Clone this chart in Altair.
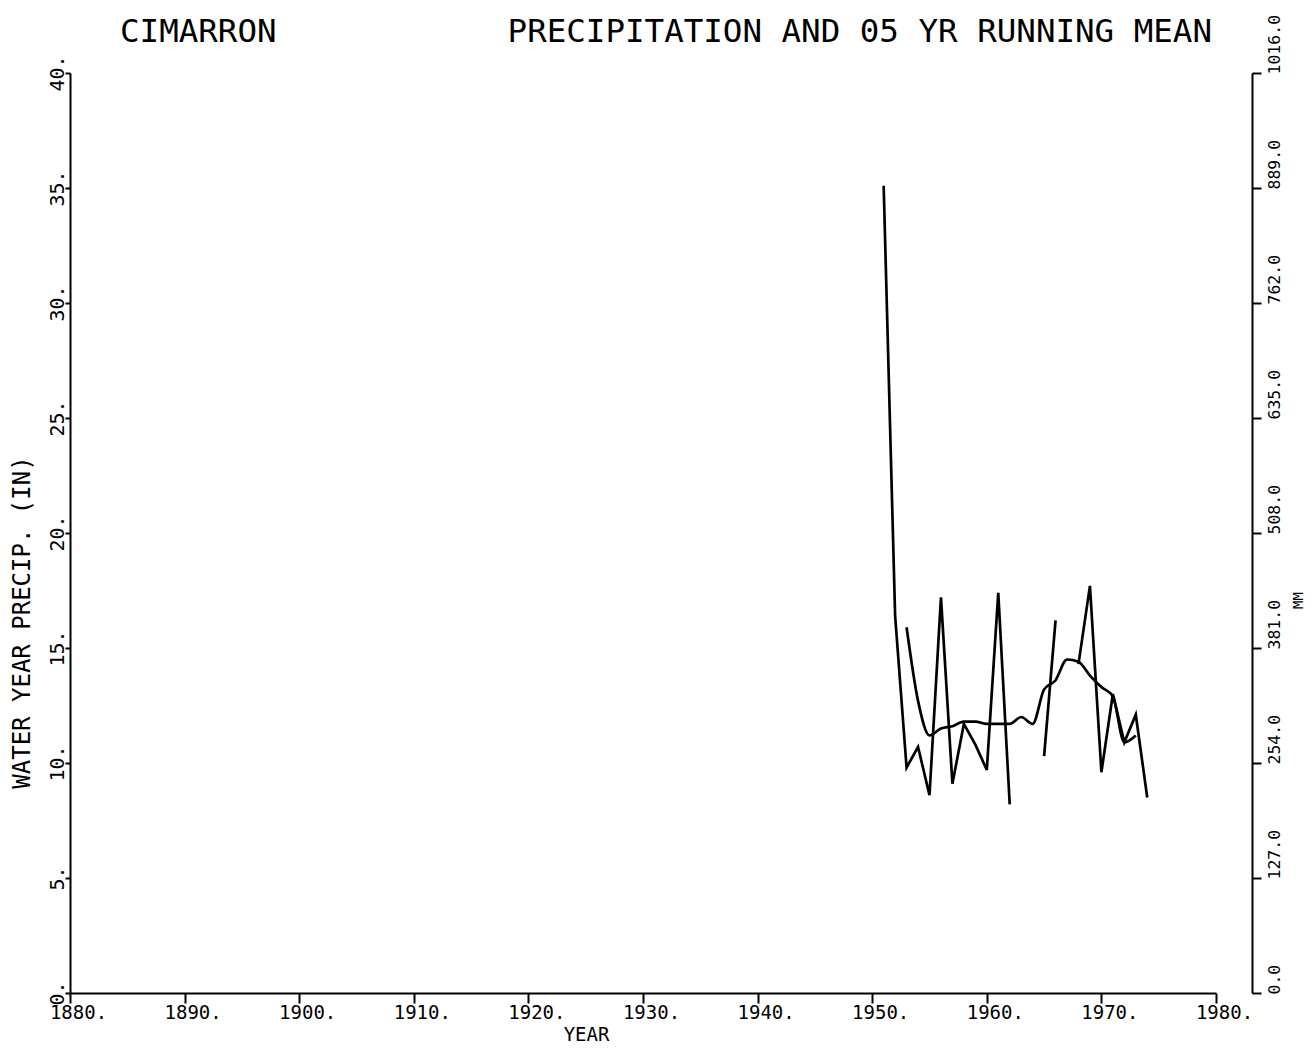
import altair as alt
import pandas as pd

# ---- data ----
years = list(range(1951, 1975))
precip_in = [35.1, 16.4, 9.8, 10.7, 8.6, 17.2, 9.1, 11.7, 10.8, 9.7, 17.4, 8.2,
             None, None, 10.3, 16.2, None, 14.3, 17.7, 9.6, 13.0, 10.9, 12.1, 8.5]

mean_years = list(range(1953, 1974))
running_mean_in = [15.9, 12.7, 11.2, 11.5, 11.6, 11.8, 11.8, 11.7, 11.7, 11.7, 12.0,
                   11.7, 13.2, 13.6, 14.5, 14.4, 13.8, 13.3, 12.9, 10.9, 11.2]

x_ticks = [1880, 1890, 1900, 1910, 1920, 1930, 1940, 1950, 1960, 1970, 1980]
in_ticks = [0, 5, 10, 15, 20, 25, 30, 35, 40]
mm_ticks = [0, 127, 254, 381, 508, 635, 762, 889, 1016]

station = "CIMARRON"
main_title = "PRECIPITATION AND 05 YR RUNNING MEAN"

# ---- build tables ----
seg, s, gap = [], 0, True
for v in precip_in:
    if v is None:
        gap = True
        seg.append(None)
    else:
        if gap:
            s += 1
        gap = False
        seg.append(s)
df_p = pd.DataFrame({"year": years, "precip": precip_in, "seg": seg}).dropna()
df_m = pd.DataFrame({"year": mean_years, "mean": running_mean_in})

MONO = "DejaVu Sans Mono"
W, H = 1146, 920

xenc = alt.X("year:Q", scale=alt.Scale(domain=[1880, 1980], nice=False, zero=False),
             axis=alt.Axis(values=x_ticks, labelExpr="datum.value + '.'", title="YEAR",
                           grid=False, tickSize=10, tickWidth=2, domainWidth=2,
                           domainColor="black", tickColor="black",
                           labelFont=MONO, labelFontSize=19, labelColor="black",
                           labelOffset=8, labelPadding=0, labelFlush=False,
                           labelOverlap=False,
                           titleFont=MONO, titleFontSize=19, titleFontWeight="normal",
                           titleColor="black", titleX=516, titleY=41,
                           titleAlign="center", titleBaseline="middle"))

yaxis_in = alt.Axis(values=in_ticks, labelExpr="datum.value + '.'", grid=False,
                    title="WATER YEAR PRECIP. (IN)", orient="left",
                    tickSize=5, tickWidth=2, domainWidth=2, domainColor="black",
                    tickColor="black", labelFont=MONO, labelFontSize=20,
                    labelColor="black", labelAngle=270, labelAlign="center",
                    labelBaseline="alphabetic", labelPadding=2, labelFlush=False,
                    labelOverlap=False,
                    titleFont=MONO, titleFontSize=24, titleFontWeight="normal",
                    titleColor="black", titleAngle=270, titleX=-48, titleY=549,
                    titleAlign="center", titleBaseline="middle")

yscale_in = alt.Scale(domain=[0, 40], nice=False, zero=True)

precip_line = alt.Chart(df_p).mark_line(color="black", strokeWidth=2.7).encode(
    x=xenc,
    y=alt.Y("precip:Q", scale=yscale_in, axis=yaxis_in),
    detail="seg:N",
)

mean_line = alt.Chart(df_m).mark_line(color="black", strokeWidth=2.7,
                                       interpolate="monotone").encode(
    x=alt.X("year:Q"),
    y=alt.Y("mean:Q", scale=yscale_in),
)

left = alt.layer(precip_line, mean_line)

right = alt.Chart(df_p).transform_calculate(mm="datum.precip * 25.4").mark_line(
    opacity=0).encode(
    x=alt.X("year:Q"),
    y=alt.Y("mm:Q", scale=alt.Scale(domain=[0, 1016], nice=False, zero=True),
            axis=alt.Axis(values=mm_ticks, orient="right", offset=36, grid=False,
                          labelExpr="format(datum.value, '.1f')",
                          tickSize=9, tickWidth=2, domainWidth=2, domainColor="black",
                          tickColor="black", labelFont=MONO, labelFontSize=16.5,
                          labelColor="black", labelAngle=270, labelAlign="left",
                          labelBaseline="top", labelPadding=5, labelOffset=1,
                          labelFlush=False, labelOverlap=False,
                          title="MM", titleFont=MONO, titleFontSize=14,
                          titleFontWeight="normal", titleColor="black",
                          titleAngle=270, titleX=46, titleY=527,
                          titleAlign="center", titleBaseline="middle")),
)

t1 = alt.Chart(pd.DataFrame({"t": [station]})).mark_text(
    font=MONO, fontSize=32.5, align="left", baseline="alphabetic", color="black").encode(
    x=alt.value(50), y=alt.value(-31), text="t:N")

t2 = alt.Chart(pd.DataFrame({"t": [main_title]})).mark_text(
    font=MONO, fontSize=32.5, align="right", baseline="alphabetic", color="black").encode(
    x=alt.value(1142), y=alt.value(-31), text="t:N")

chart = alt.layer(left, right, t1, t2).resolve_scale(y="independent").properties(
    width=W, height=H,
    autosize=alt.AutoSizeParams(type="none"),
    padding={"left": 62, "top": 65, "right": 90, "bottom": 51},
    background="white",
).configure_view(stroke=None)

chart.save("out.html", embed_options={"renderer": "svg", "actions": False})
